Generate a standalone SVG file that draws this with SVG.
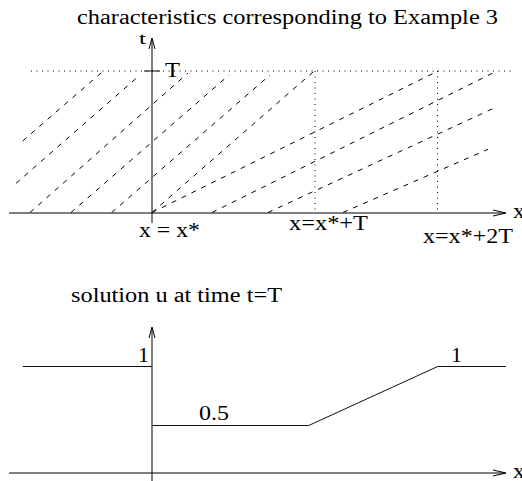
<svg xmlns="http://www.w3.org/2000/svg" width="522" height="481" viewBox="0 0 522 481" font-family="'Liberation Serif', 'DejaVu Serif', serif">
<style>
text { font-family: "Liberation Serif", "DejaVu Serif", serif; font-size: 20px; fill: #000; }
.axis { stroke: #000; stroke-width: 1; fill: none; }
.arrow { stroke: #000; stroke-width: 1; fill: none; }
.dash { stroke: #000; stroke-width: 1; stroke-dasharray: 5 6; fill: none; }
.dot { stroke: #000; stroke-width: 1; stroke-dasharray: 1 4.5; fill: none; }
.sol { stroke: #111; stroke-width: 1; fill: none; }
</style>
<rect width="522" height="481" fill="#fff"/>
<g id="title">
<text x="77" y="24" textLength="421" lengthAdjust="spacingAndGlyphs">characteristics corresponding to Example 3</text>
</g>
<g id="top-axes">
<line class="axis" x1="9" y1="213" x2="505" y2="213"/>
<polyline class="arrow" points="493,210 506,213 493,216"/>
<line class="axis" x1="152" y1="223" x2="152" y2="39"/>
<polyline class="arrow" points="149,49 152,38 155,49"/>
<line class="axis" x1="144" y1="71" x2="160" y2="71"/>
<text x="139" y="44" style="font-size:17.5px" textLength="7" lengthAdjust="spacingAndGlyphs">t</text>
<text x="165" y="76.5" textLength="15" lengthAdjust="spacingAndGlyphs">T</text>
<text x="513" y="218" textLength="12" lengthAdjust="spacingAndGlyphs">x</text>
<text x="139" y="237.3" textLength="61" lengthAdjust="spacingAndGlyphs">x = x*</text>
<text x="289" y="229.5" textLength="79" lengthAdjust="spacingAndGlyphs">x=x*+T</text>
<text x="423" y="243.3" textLength="90" lengthAdjust="spacingAndGlyphs">x=x*+2T</text>
</g>
<g id="guides">
<line class="dot" x1="31" y1="71" x2="511" y2="71"/>
<line class="dot" x1="315" y1="71" x2="315" y2="212"/>
<line class="dot" x1="437.5" y1="71" x2="437.5" y2="212"/>
</g>
<g id="characteristics">
<line class="dash" x1="22.7" y1="141" x2="103.3" y2="71"/>
<line class="dash" x1="16" y1="183.3" x2="140" y2="75"/>
<line class="dash" x1="30" y1="212.5" x2="188" y2="73"/>
<line class="dash" x1="71" y1="212.5" x2="229" y2="75"/>
<line class="dash" x1="111.7" y1="212.5" x2="270" y2="75"/>
<line class="dash" x1="152" y1="212.5" x2="313" y2="72"/>
<line class="dash" x1="152" y1="212.5" x2="438" y2="71"/>
<line class="dash" x1="212" y1="212.5" x2="493" y2="73"/>
<line class="dash" x1="268" y1="212.5" x2="497" y2="106.7"/>
<line class="dash" x1="343" y1="212.5" x2="488" y2="149.3"/>
</g>
<g id="bottom-title">
<text x="71" y="302.3" textLength="211" lengthAdjust="spacingAndGlyphs">solution u at time t=T</text>
</g>
<g id="bottom-axes">
<line class="axis" x1="9" y1="473" x2="505" y2="473"/>
<polyline class="arrow" points="493,470 506,473 493,476"/>
<line class="axis" x1="152" y1="481" x2="152" y2="328"/>
<polyline class="arrow" points="149,338 152,327 155,338"/>
<text x="513" y="477.5" textLength="12" lengthAdjust="spacingAndGlyphs">x</text>
</g>
<g id="solution">
<line class="sol" x1="22.7" y1="366.5" x2="152" y2="366.5"/>
<polyline class="sol" points="152,425.5 308.7,425.5 437.7,366.5 506,366.5"/>
<text x="138" y="362" textLength="11" lengthAdjust="spacingAndGlyphs">1</text>
<text x="199" y="420" textLength="30" lengthAdjust="spacingAndGlyphs">0.5</text>
<text x="451" y="362" textLength="11" lengthAdjust="spacingAndGlyphs">1</text>
</g>
</svg>
